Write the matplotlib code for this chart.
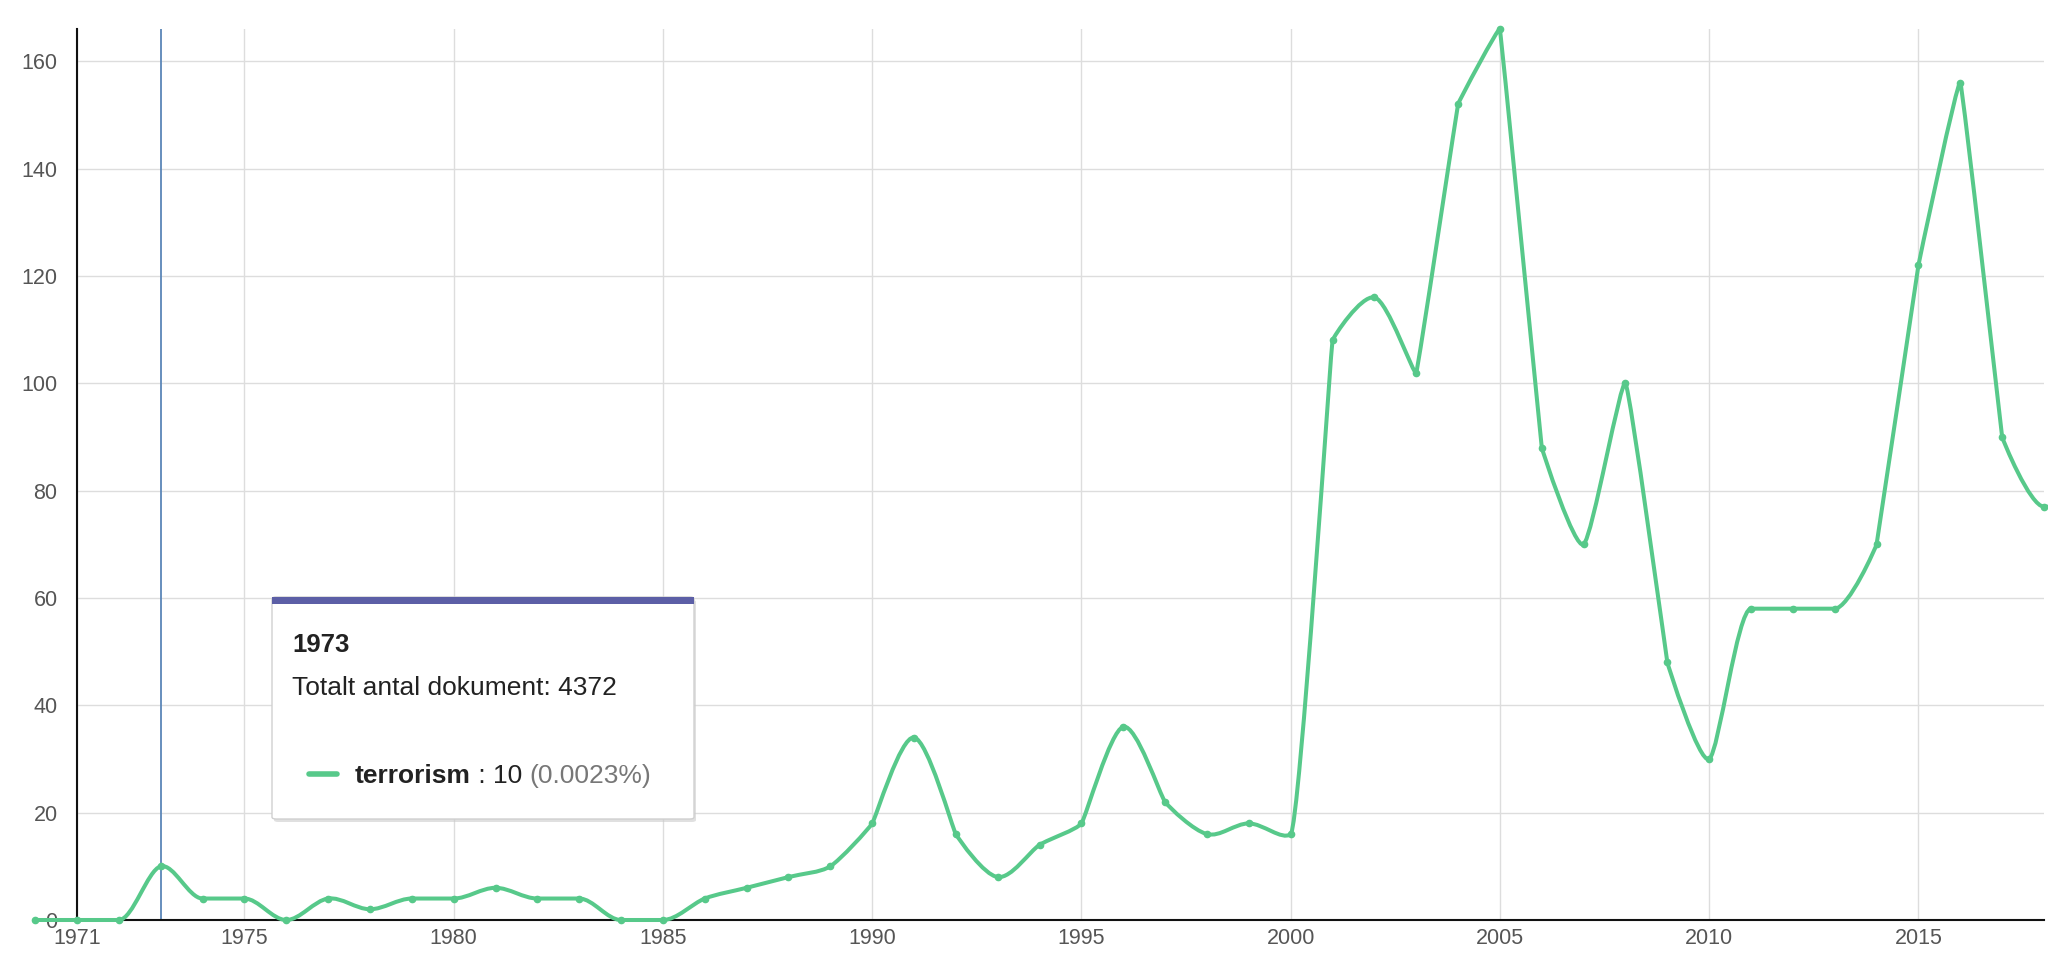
import matplotlib
matplotlib.use("Agg")
import matplotlib.pyplot as plt
from matplotlib.patches import FancyBboxPatch, Rectangle, PathPatch
from matplotlib.path import Path
import numpy as np

# data (the series runs on just past the right edge)
years = list(range(1970, 2020))
counts = [0, 0, 0, 10, 4, 4, 0, 4, 2, 4,
          4, 6, 4, 4, 0, 0, 4, 6, 8, 10,
          18, 34, 16, 8, 14, 18, 36, 22, 16, 18,
          16, 108, 116, 102, 152, 166, 88, 70, 100, 48,
          30, 58, 58, 58, 70, 122, 156, 90, 77, 77]
xticks = [1971, 1975, 1980, 1985, 1990, 1995, 2000, 2005, 2010, 2015]
yticks = [0, 20, 40, 60, 80, 100, 120, 140, 160]
hover_year = 1973
hover_total = 4372
series_name = "terrorism"

GREEN = "#57c98a"
FONT = ["Liberation Sans", "DejaVu Sans"]
plt.rcParams['font.family'] = FONT

W, H = 2048, 972
XMIN, XMAX, YMAX = 1971, 2018, 166
AX_L, AX_R, AX_B, AX_T = 77, 2044, 920, 29  # pixels


def monotone_path(x, y):
    # old d3 (v3) "monotone" interpolation, worked out in pixel space
    sx = (AX_R - AX_L) / (XMAX - XMIN)
    sy = (AX_B - AX_T) / YMAX
    px_ = (np.asarray(x, float) - XMIN) * sx
    py_ = np.asarray(y, float) * sy
    n = len(px_)
    d = np.diff(py_) / np.diff(px_)
    m = np.zeros(n)
    m[0] = d[0]
    m[-1] = d[-1]
    for i in range(1, n - 1):
        m[i] = (d[i - 1] + d[i]) / 2
    for i in range(n - 1):
        if abs(d[i]) < 1e-6:
            m[i] = m[i + 1] = 0
        else:
            a = m[i] / d[i]
            b = m[i + 1] / d[i]
            s = a * a + b * b
            if s > 9:
                s = d[i] * 3 / np.sqrt(s)
                m[i] = s * a
                m[i + 1] = s * b
    tx = np.zeros(n)
    for i in range(n):
        tx[i] = (px_[min(n - 1, i + 1)] - px_[max(0, i - 1)]) / (6 * (1 + m[i] ** 2))
    ty = m * tx
    verts = [(px_[0], py_[0])]
    codes = [Path.MOVETO]
    for i in range(n - 1):
        verts += [(px_[i] + tx[i], py_[i] + ty[i]),
                  (px_[i + 1] - tx[i + 1], py_[i + 1] - ty[i + 1]),
                  (px_[i + 1], py_[i + 1])]
        codes += [Path.CURVE4] * 3
    verts = np.array(verts)
    verts[:, 0] = verts[:, 0] / sx + XMIN
    verts[:, 1] = verts[:, 1] / sy
    return Path(verts, codes)


fig = plt.figure(figsize=(W / 100, H / 100), dpi=100)
ax = fig.add_axes([AX_L / W, 1 - AX_B / H, (AX_R - AX_L) / W, (AX_B - AX_T) / H])
ax.set_xlim(XMIN, XMAX)
ax.set_ylim(0, YMAX)

line = PathPatch(monotone_path(years, counts), fc="none", ec=GREEN, lw=2.9,
                 clip_on=False, zorder=3, capstyle="round", joinstyle="round")
ax.add_patch(line)
ax.plot(years, counts, 'o', color=GREEN, ms=4.5, clip_on=False, zorder=4)

ax.axvline(hover_year, color="#5b86b8", lw=1.3, zorder=2)

ax.set_xticks(xticks)
ax.set_yticks(yticks)
ax.grid(True, color="#dddddd", lw=1)
ax.set_axisbelow(True)
ax.tick_params(length=0, labelsize=15.5, labelcolor="#555555", pad=6)
ax.tick_params(axis='y', pad=14)
for side in ["top", "right"]:
    ax.spines[side].set_visible(False)
for side in ["left", "bottom"]:
    ax.spines[side].set_color("#111111")
    ax.spines[side].set_linewidth(1.5)


# tooltip box (pixel coordinates from the top left)
def px(x, y):
    return x / W, 1 - y / H


bx0, by0, bx1, by1 = 272, 597, 694, 819
shadow = FancyBboxPatch(px(bx0 + 2, by1 + 3), (bx1 - bx0) / W, (by1 - by0) / H,
                        boxstyle="round,pad=0,rounding_size=0.002",
                        transform=fig.transFigure, fc="#cccccc", ec="none", alpha=0.6, zorder=5)
box = FancyBboxPatch(px(bx0, by1), (bx1 - bx0) / W, (by1 - by0) / H,
                     boxstyle="round,pad=0,rounding_size=0.002",
                     transform=fig.transFigure, fc="white", ec="#d0d0d0", lw=1, zorder=6)
bar = Rectangle(px(bx0, by0 + 7), (bx1 - bx0) / W, 7 / H, transform=fig.transFigure,
                fc="#5c5fa6", ec="none", zorder=7)
for p in (shadow, box, bar):
    fig.patches.append(p)

FS = 19
fig.text(*px(292, 652), str(hover_year), fontsize=FS - 0.5, fontweight="bold", color="#222222",
         va="baseline", zorder=8)
fig.text(*px(292, 695), f"Totalt antal dokument: {hover_total}", fontsize=FS, color="#222222",
         va="baseline", zorder=8)
fig.lines.append(plt.Line2D([309 / W, 337 / W], [1 - 774 / H, 1 - 774 / H], transform=fig.transFigure,
                            color=GREEN, lw=4, solid_capstyle="round", zorder=8))

val = counts[years.index(hover_year)]
t1 = fig.text(*px(355, 783), series_name, fontsize=FS, fontweight="bold", color="#222222",
              va="baseline", zorder=8)
fig.canvas.draw()
r = fig.canvas.get_renderer()
e1 = t1.get_window_extent(r)
t2 = fig.text(e1.x1 / W, 1 - 783 / H, f" : {val} ", fontsize=FS, color="#222222",
              va="baseline", zorder=8)
e2 = t2.get_window_extent(r)
fig.text(e2.x1 / W, 1 - 783 / H, f"({val / hover_total:.4f}%)", fontsize=FS,
         color="#777777", va="baseline", zorder=8)

fig.savefig("out.png", dpi=100)
